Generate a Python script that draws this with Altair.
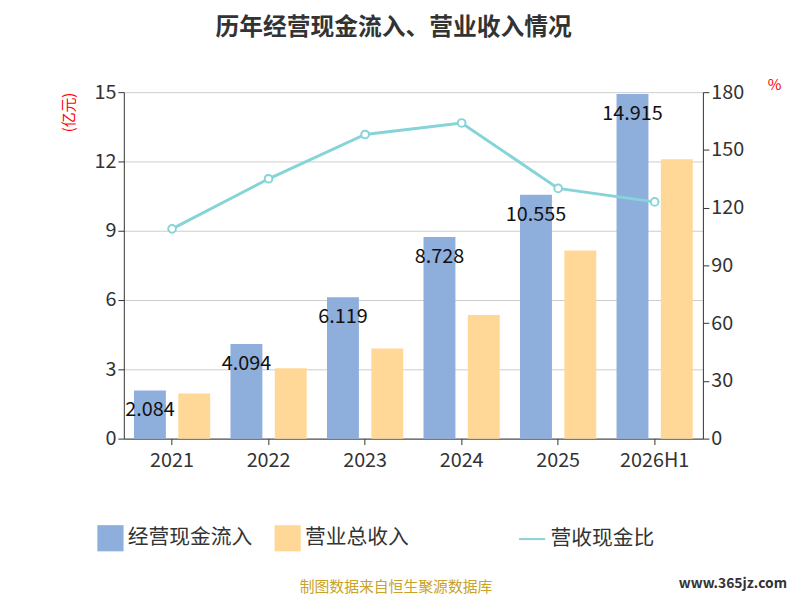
import altair as alt
import pandas as pd

years = ["2021", "2022", "2023", "2024", "2025", "2026H1"]
cash_in = [2.084, 4.094, 6.119, 8.728, 10.555, 14.915]
revenue = [1.95, 3.05, 3.9, 5.35, 8.15, 12.1]
ratio = [109, 135, 158, 164, 130, 123]

s1, s2, s3 = "经营现金流入", "营业总收入", "营收现金比"
bars = pd.DataFrame({
    "year": years * 2,
    "series": [s1] * 6 + [s2] * 6,
    "value": cash_in + revenue,
})
line_df = pd.DataFrame({"year": years, "ratio": ratio, "series": [s3] * 6})

font = "Noto Sans CJK SC"
x = alt.X("year:N", sort=years, title=None, scale=alt.Scale(paddingInner=0.1, paddingOuter=0.05),
          axis=alt.Axis(labelAngle=0, labelFontSize=20, labelColor="#333", domainColor="#333",
                        tickColor="#333", labelPadding=6, tickSize=6))
xoff = alt.XOffset("series:N", sort=[s1, s2], scale=alt.Scale(paddingInner=0.28, paddingOuter=0.12))
color = alt.Color("series:N", sort=[s1, s2],
                  scale=alt.Scale(domain=[s1, s2], range=["#8eaedc", "#ffd898"]),
                  legend=alt.Legend(title=None, orient="none", legendX=-27, legendY=437,
                                    direction="horizontal", symbolType="square", symbolSize=700,
                                    labelFontSize=21, labelColor="#333", columnPadding=22,
                                    symbolStrokeWidth=0))
yl = alt.Y("value:Q", scale=alt.Scale(domain=[0, 15], nice=False),
           axis=alt.Axis(values=[0, 3, 6, 9, 12, 15], labelFontSize=20, labelColor="#333",
                         domainColor="#333", tickColor="#333", gridColor="#ccc", title="(亿元)",
                         titleColor="red", titleFontSize=15, titleFontWeight="normal",
                         titleAngle=-90, titleAlign="right", titleY=0, titleX=-48, tickSize=6))

base = alt.Chart(bars).encode(x=x, xOffset=xoff)
blue = base.transform_filter(alt.datum.series == s1).mark_bar().encode(y=yl, color=color)
txt = base.transform_filter(alt.datum.series == s1).mark_text(
    baseline="top", dy=10, fontSize=20, color="#111", font=font).encode(
    y="value:Q", text=alt.Text("value:Q", format=".3f"))
orange = base.transform_filter(alt.datum.series == s2).mark_bar().encode(y="value:Q", color=color)
left = alt.layer(blue, txt, orange)

yr = alt.Y("ratio:Q", scale=alt.Scale(domain=[0, 180], nice=False),
           axis=alt.Axis(values=[0, 30, 60, 90, 120, 150, 180], orient="right", labelFontSize=20,
                         labelColor="#333", domainColor="#333", tickColor="#333", grid=False,
                         title="%", titleColor="red", titleFontSize=15, titleFontWeight="normal",
                         titleAngle=0, titleY=0, titleX=72, tickSize=6))
line = alt.Chart(line_df).mark_line(
    color="#86d4d8", strokeWidth=3,
    point=alt.OverlayMarkDef(filled=True, fill="white", stroke="#86d4d8", strokeWidth=2, size=60)
).encode(x=x, y=yr, stroke=alt.Stroke("series:N", scale=alt.Scale(range=["#86d4d8"]),
         legend=alt.Legend(title=None, orient="none", legendX=398, legendY=437,
                           symbolType="stroke", symbolSize=700, symbolStrokeWidth=2,
                           labelFontSize=21, labelColor="#333")))

footer = alt.Chart(pd.DataFrame({"t": ["制图数据来自恒生聚源数据库"]})).mark_text(
    fontSize=15, color="#c9a227", font=font).encode(
    text="t:N", x=alt.value(275), y=alt.value(500))
mark = alt.Chart(pd.DataFrame({"t": ["www.365jz.com"]})).mark_text(
    fontSize=14, color="#333", fontWeight="bold", align="right").encode(
    text="t:N", x=alt.value(670), y=alt.value(497))

chart = alt.layer(left, line, footer, mark).resolve_scale(y="independent", color="independent").properties(
    width=585, height=350,
    autosize=alt.AutoSizeParams(type="none"),
    padding={"left": 117, "top": 82, "right": 90, "bottom": 160},
    title=alt.TitleParams("历年经营现金流入、营业收入情况", fontSize=24, font=font, fontWeight="bold",
                          color="#333", offset=38, anchor="middle", dx=-20),
).configure(font=font).configure_view(strokeWidth=0)

chart.save("out.html", embed_options={"renderer": "svg", "actions": False})
